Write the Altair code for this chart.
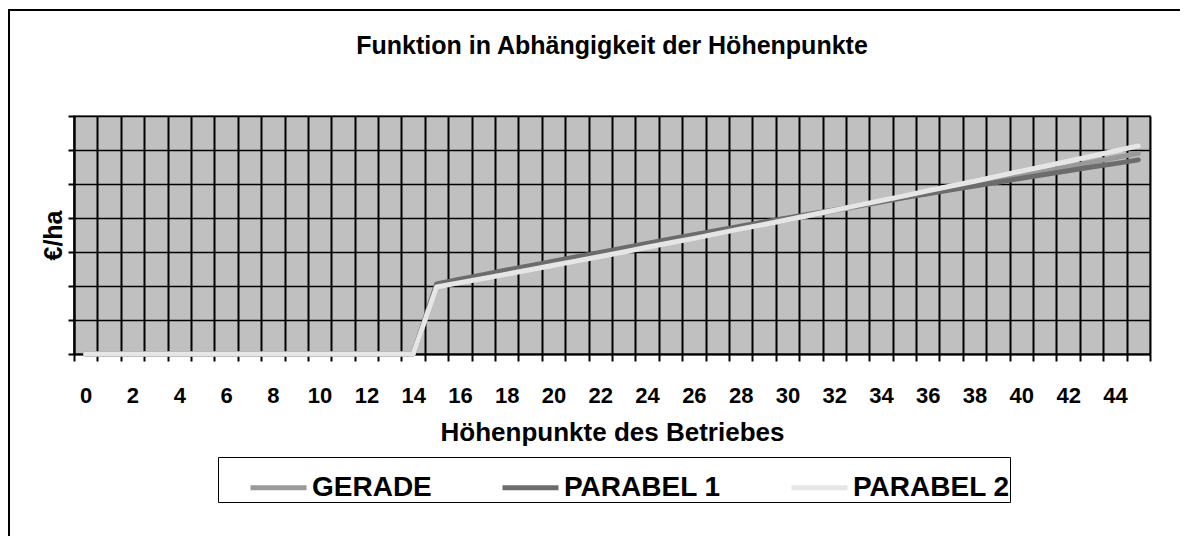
import altair as alt
import pandas as pd

# ---- data ----
points = list(range(46))
series = ["GERADE", "PARABEL 1", "PARABEL 2"]
colors = ["#9a9a9a", "#6c6c6c", "#e6e6e6"]

gerade = [0, 0, 0, 0, 0, 0, 0, 0, 0, 0, 0, 0, 0, 0, 0,
          200, 213, 226, 239, 252, 265, 278, 291, 304, 317,
          330, 343, 356, 369, 382, 395, 408, 421, 434, 447,
          460, 473, 486, 499, 512, 525, 538, 551, 564, 577, 590]
parabel1 = [0, 0, 0, 0, 0, 0, 0, 0, 0, 0, 0, 0, 0, 0, 0,
            206, 220, 233, 247, 260, 273, 286, 299, 312, 325,
            338, 351, 363, 376, 388, 400, 412, 424, 436, 448,
            460, 471, 483, 494, 505, 517, 528, 539, 550, 560, 571]
parabel2 = [0, 0, 0, 0, 0, 0, 0, 0, 0, 0, 0, 0, 0, 0, 0,
            197, 210, 222, 235, 248, 261, 274, 287, 300, 314,
            327, 340, 354, 368, 381, 395, 409, 423, 437, 451,
            465, 480, 494, 508, 523, 538, 552, 567, 582, 597, 612]
y_ticks = [0, 100, 200, 300, 400, 500, 600, 700]

rows = []
for name, vals in zip(series, [gerade, parabel1, parabel2]):
    for p, v in zip(points, vals):
        rows.append({"hp": p, "wert": v, "serie": name})
df = pd.DataFrame(rows)

FONT = "Liberation Sans"
W, H = 1076, 238

x_enc = alt.X(
    "hp:O",
    scale=alt.Scale(type="band", paddingInner=0, paddingOuter=0),
    axis=alt.Axis(
        title="Höhenpunkte des Betriebes",
        tickBand="extent",
        labelExpr="datum.value % 2 == 0 ? datum.label : ''",
        labelAngle=0,
        labelOverlap=False,
        grid=True, gridColor="black", gridWidth=2,
        tickColor="black", tickSize=7, tickWidth=2,
        domainColor="black", domainWidth=2,
        labelFont=FONT, labelFontSize=22, labelFontWeight="bold",
        labelPadding=24, labelColor="black",
        titleFont=FONT, titleFontSize=26, titleFontWeight="bold",
        titlePadding=13, titleColor="black",
    ),
)
y_enc = alt.Y(
    "wert:Q",
    scale=alt.Scale(domain=[0, 700]),
    axis=alt.Axis(
        title="€/ha",
        values=y_ticks,
        labels=False,
        grid=True, gridColor="black", gridWidth=1.6,
        tickColor="black", tickSize=6, tickWidth=2,
        domainColor="black", domainWidth=2,
        titleFont=FONT, titleFontSize=25, titleFontWeight="bold",
        titlePadding=1, titleColor="black",
    ),
)
color_enc = alt.Color(
    "serie:N",
    scale=alt.Scale(domain=series, range=colors),
    legend=alt.Legend(
        title="\u00a0", titleOrient="left", titleFontSize=1, titlePadding=30,
        orient="none", legendX=144, legendY=341,
        direction="horizontal", symbolType="stroke", symbolSize=3136,
        symbolStrokeWidth=5, labelFont=FONT, labelFontSize=28,
        labelFontWeight="bold", labelColor="black", labelOffset=3,
        columnPadding=60, strokeColor="black", padding=0, labelLimit=300,
    ),
)

layers = []
for name in series:
    layers.append(
        alt.Chart(df)
        .transform_filter(alt.datum.serie == name)
        .mark_line(strokeWidth=5, strokeCap="round", strokeJoin="round")
        .encode(x=x_enc, y=y_enc, color=color_enc)
    )

frame = alt.Data(values=[{}])
left_border = alt.Chart(frame).mark_rule(color="black", strokeWidth=2).encode(
    x=alt.value(-65), y=alt.value(-106), y2=alt.value(430)
)
top_border = alt.Chart(frame).mark_rule(color="black", strokeWidth=2).encode(
    x=alt.value(-66), x2=alt.value(1110), y=alt.value(-106)
)

chart = (
    alt.layer(*layers, left_border, top_border)
    .properties(
        width=W, height=H,
        title=alt.Title("Funktion in Abhängigkeit der Höhenpunkte", font=FONT,
                        fontSize=25, fontWeight="bold", color="black",
                        offset=-50, anchor="middle"),
        autosize=alt.AutoSizeParams(type="none"),
        padding={"left": 66, "top": 108, "right": 30, "bottom": 182},
    )
    .configure(background="white")
    .configure_view(fill="#c0c0c0", stroke="#808080", strokeWidth=2)
)

chart.save("out.html", embed_options={"renderer": "svg", "actions": False})
